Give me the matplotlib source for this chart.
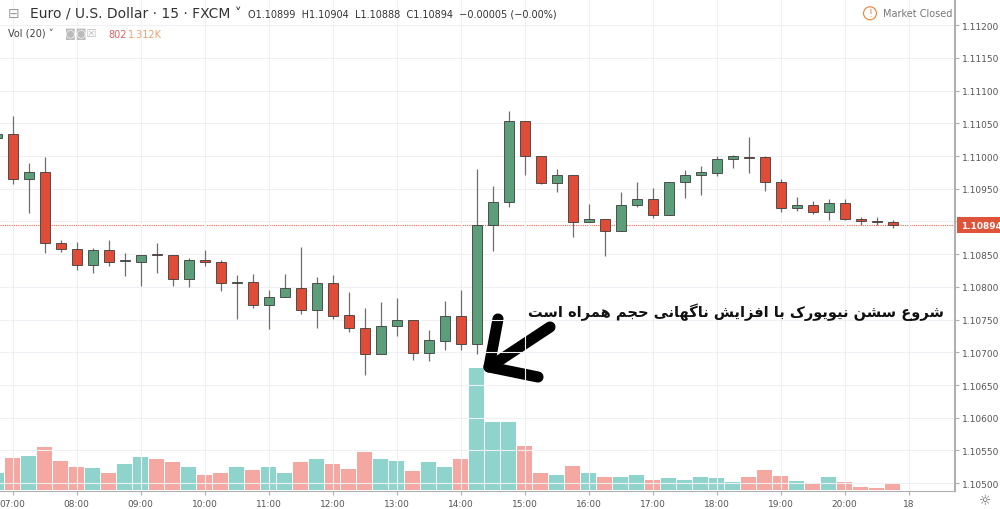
import matplotlib
matplotlib.use("Agg")
import matplotlib.pyplot as plt
from matplotlib.lines import Line2D

# === DATA (EUR/USD 15 min) ===
times = ["06:45"] + [f"{h:02d}:{m:02d}" for h in range(7, 21) for m in (0, 15, 30, 45)]
opens = [1.11028, 1.11034, 1.10965, 1.10976, 1.10867, 1.10858, 1.10833, 1.10856, 1.10839,
         1.10838, 1.10849, 1.10849, 1.10812, 1.10841, 1.10838, 1.10806, 1.10807, 1.10772,
         1.10784, 1.10798, 1.10765, 1.10806, 1.10757, 1.10737, 1.10697, 1.10740, 1.10749,
         1.10699, 1.10718, 1.10755, 1.10713, 1.10894, 1.10930, 1.11054, 1.11000, 1.10959,
         1.10971, 1.10899, 1.10904, 1.10885, 1.10925, 1.10934, 1.10910, 1.10960, 1.10971,
         1.10974, 1.10995, 1.10999, 1.10998, 1.10960, 1.10920, 1.10925, 1.10914, 1.10928,
         1.10904, 1.10901, 1.10899]
closes = [1.11034, 1.10965, 1.10976, 1.10867, 1.10858, 1.10833, 1.10856, 1.10838, 1.10840,
          1.10849, 1.10848, 1.10812, 1.10841, 1.10838, 1.10806, 1.10808, 1.10772, 1.10784,
          1.10798, 1.10765, 1.10806, 1.10755, 1.10737, 1.10697, 1.10740, 1.10749, 1.10699,
          1.10719, 1.10755, 1.10713, 1.10894, 1.10930, 1.11054, 1.11000, 1.10959, 1.10971,
          1.10899, 1.10904, 1.10885, 1.10925, 1.10934, 1.10910, 1.10960, 1.10971, 1.10975,
          1.10995, 1.11000, 1.10997, 1.10960, 1.10920, 1.10925, 1.10914, 1.10928, 1.10904,
          1.10901, 1.10899, 1.10894]
highs = [1.11045, 1.11061, 1.10989, 1.10998, 1.10872, 1.10869, 1.10859, 1.10872, 1.10852,
         1.10849, 1.10867, 1.10849, 1.10844, 1.10856, 1.10841, 1.10818, 1.10820, 1.10795,
         1.10820, 1.10861, 1.10815, 1.10818, 1.10792, 1.10768, 1.10777, 1.10783, 1.10749,
         1.10734, 1.10778, 1.10795, 1.10980, 1.10954, 1.11069, 1.11054, 1.11000, 1.10980,
         1.10971, 1.10927, 1.10904, 1.10945, 1.10960, 1.10951, 1.10960, 1.10979, 1.10985,
         1.11000, 1.11002, 1.11029, 1.11000, 1.10965, 1.10937, 1.10931, 1.10934, 1.10934,
         1.10907, 1.10907, 1.10902]
lows = [1.11020, 1.10957, 1.10913, 1.10852, 1.10853, 1.10826, 1.10821, 1.10832, 1.10817,
        1.10801, 1.10821, 1.10801, 1.10800, 1.10832, 1.10794, 1.10751, 1.10768, 1.10735,
        1.10784, 1.10758, 1.10737, 1.10751, 1.10731, 1.10665, 1.10697, 1.10725, 1.10688,
        1.10687, 1.10703, 1.10703, 1.10697, 1.10855, 1.10922, 1.10971, 1.10957, 1.10945,
        1.10876, 1.10899, 1.10847, 1.10885, 1.10922, 1.10905, 1.10910, 1.10936, 1.10940,
        1.10969, 1.10982, 1.10974, 1.10946, 1.10914, 1.10916, 1.10911, 1.10902, 1.10902,
        1.10894, 1.10894, 1.10890]
volumes = [2000, 3800, 4080, 5120, 3440, 2760, 2560, 1960, 3120, 3920, 3720, 3360, 2760,
           1760, 2040, 2760, 2360, 2760, 1960, 3360, 3720, 3040, 2480, 4560, 3640, 3440,
           2240, 3360, 2680, 3640, 14600, 8160, 8080, 5280, 2040, 1760, 2880, 2040, 1560,
           1560, 1760, 1200, 1360, 1200, 1560, 1440, 960, 1480, 2360, 1680, 1080, 680,
           1480, 960, 320, 200, 802]
hour_labels = ["07:00", "08:00", "09:00", "10:00", "11:00", "12:00", "13:00",
               "14:00", "15:00", "16:00", "17:00", "18:00", "19:00", "20:00", "18"]
last_price = 1.10894
note = "شروع سشن نیویورک با افزایش ناگهانی حجم همراه است"

RED, GREEN = "#de4d38", "#5c9e7a"
RED_V, GREEN_V = "#f5a7a2", "#8fd4cc"


# === minimal Persian shaping (matplotlib has no bidi/joining) ===
FORMS = {  # isolated, final, initial, medial
    "ا": ("\uFE8D", "\uFE8E", None, None), "ب": ("\uFE8F", "\uFE90", "\uFE91", "\uFE92"),
    "ت": ("\uFE95", "\uFE96", "\uFE97", "\uFE98"), "ج": ("\uFE9D", "\uFE9E", "\uFE9F", "\uFEA0"),
    "ح": ("\uFEA1", "\uFEA2", "\uFEA3", "\uFEA4"), "ر": ("\uFEAD", "\uFEAE", None, None),
    "ز": ("\uFEAF", "\uFEB0", None, None), "س": ("\uFEB1", "\uFEB2", "\uFEB3", "\uFEB4"),
    "ش": ("\uFEB5", "\uFEB6", "\uFEB7", "\uFEB8"), "ع": ("\uFEC9", "\uFECA", "\uFECB", "\uFECC"),
    "ف": ("\uFED1", "\uFED2", "\uFED3", "\uFED4"), "م": ("\uFEE1", "\uFEE2", "\uFEE3", "\uFEE4"),
    "ن": ("\uFEE5", "\uFEE6", "\uFEE7", "\uFEE8"), "ه": ("\uFEE9", "\uFEEA", "\uFEEB", "\uFEEC"),
    "و": ("\uFEED", "\uFEEE", None, None), "ی": ("\uFBFC", "\uFBFD", "\uFBFE", "\uFBFF"),
    "ک": ("\uFB8E", "\uFB8F", "\uFB90", "\uFB91"), "گ": ("\uFB92", "\uFB93", "\uFB94", "\uFB95"),
}


def shape(text):
    out = []
    for i, ch in enumerate(text):
        if ch not in FORMS:
            out.append(ch)
            continue
        prev = text[i - 1] if i > 0 else " "
        nxt = text[i + 1] if i + 1 < len(text) else " "
        join_prev = prev in FORMS and FORMS[prev][2] is not None
        join_next = nxt in FORMS and FORMS[ch][2] is not None
        iso, fin, ini, med = FORMS[ch]
        if join_prev and join_next:
            out.append(med)
        elif join_prev:
            out.append(fin)
        elif join_next:
            out.append(ini)
        else:
            out.append(iso)
    return "".join(out)[::-1]


# === FIGURE ===
fig = plt.figure(figsize=(10, 5.1), dpi=100)
ax = fig.add_axes([0, 18 / 510, 955 / 1000, 492 / 510])
axv = ax.twinx()
ax.set_zorder(2)
ax.patch.set_visible(False)

x0 = -1  # index of the 06:45 candle relative to 07:00
xs = [x0 + i for i in range(len(times))]

for x, o, c, h, l, v in zip(xs, opens, closes, highs, lows, volumes):
    up = c >= o
    col = GREEN if up else RED
    ax.vlines(x, l, h, color="#6f6f6f", lw=0.9, zorder=2)
    ax.bar(x, max(abs(c - o), 0.000015), bottom=min(o, c), width=0.62,
           color=col, edgecolor="#3c3c3c", lw=0.6, zorder=3)
    axv.bar(x, v, width=0.94, color=GREEN_V if up else RED_V, zorder=1)

ax.set_xlim(-0.8, 58.9)
ax.set_ylim(1.10488, 1.11240)
axv.set_ylim(-150, 58900)
axv.axis("off")

yt = [1.105 + 0.0005 * k for k in range(15)]
ax.set_yticks(yt)
ax.yaxis.tick_right()
# the 1.10900 label sits under the last-price box
ax.set_yticklabels(["" if abs(t - 1.109) < 1e-6 else f"{t:.5f}" for t in yt],
                   fontsize=6.5, color="#555555")
ax.set_xticks(range(0, 57, 4))
ax.set_xticklabels(hour_labels, fontsize=6.5, color="#555555")
ax.tick_params(axis="y", length=3, color="#b0b0b0", pad=2)
ax.tick_params(axis="x", length=3, color="#b0b0b0", pad=3)
ax.grid(color="#eef0f4", lw=0.8)
for s in ["top", "left"]:
    ax.spines[s].set_visible(False)
ax.spines["right"].set_color("#b0b0b0")
ax.spines["right"].set_linewidth(1.5)
ax.spines["bottom"].set_color("#b0b0b0")

ax.axhline(last_price, color="#e66a4d", lw=0.8, ls=(0, (1, 1)), zorder=1)
ax.text(1.006, last_price, f"{last_price:.5f}", transform=ax.get_yaxis_transform(),
        fontsize=6.5, color="white", va="center", fontweight="bold",
        bbox=dict(boxstyle="square,pad=0.4", fc="#e0533b", ec="none"), zorder=5)

# header
fig.text(0.008, 0.972, "⊟", fontsize=10, color="#999999", va="center")
fig.text(0.03, 0.972, "Euro / U.S. Dollar · 15 · FXCM ˅", fontsize=10, color="#333333", va="center")
fig.text(0.248, 0.972, "O1.10899  H1.10904  L1.10888  C1.10894  −0.00005 (−0.00%)",
         fontsize=7, color="#333333", va="center")
fig.text(0.008, 0.932, "Vol (20) ˅", fontsize=7, color="#444444", va="center")
fig.text(0.065, 0.932, "◙◙☒", fontsize=8, color="#bbbbbb", va="center")
fig.text(0.108, 0.932, "802", fontsize=7, color="#e06060", va="center")
fig.text(0.128, 0.932, "1.312K", fontsize=7, color="#f0a070", va="center")
fig.text(0.870, 0.972, "!", fontsize=7, color="#f08030", va="center", ha="center",
         bbox=dict(boxstyle="circle,pad=0.15", fc="white", ec="#f08030", lw=0.8))
fig.text(0.883, 0.972, "Market Closed", fontsize=7, color="#777777", va="center")
fig.text(0.985, 0.018, "☼", fontsize=10, color="#666666", ha="center", va="center")

# annotation
fig.text(0.944, 1 - 312 / 510, shape(note), fontsize=10.5, fontweight="bold",
         family="DejaVu Sans", ha="right", va="center", color="#111111")
pts = lambda x, y: (x / 1000, 1 - y / 510)
for (xa, ya), (xb, yb) in [((550, 328), (494, 365)), ((498, 320), (489, 368)),
                           ((489, 368), (538, 378))]:
    (u0, v0), (u1, v1) = pts(xa, ya), pts(xb, yb)
    fig.add_artist(Line2D([u0, u1], [v0, v1], color="black", lw=8,
                          solid_capstyle="round", transform=fig.transFigure))

fig.savefig("out.png", dpi=100)
